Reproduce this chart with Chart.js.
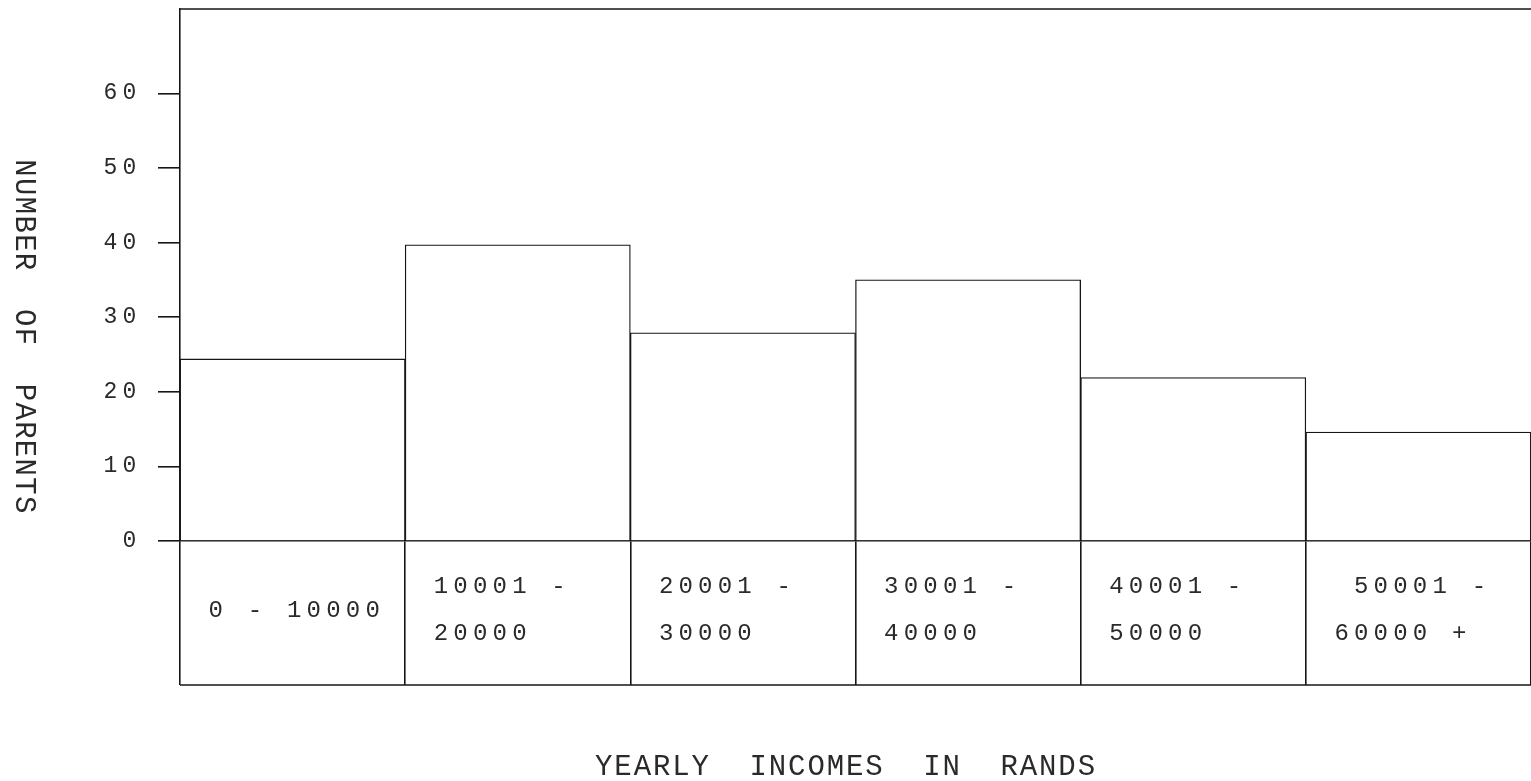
<!DOCTYPE html>
<html>
<head>
<meta charset="utf-8">
<script src="https://cdn.jsdelivr.net/npm/chart.js@4.4.0/dist/chart.umd.min.js"></script>
<style>
html,body{margin:0;padding:0;background:#fff;overflow:hidden}
canvas{display:block}
</style>
</head>
<body>
<canvas id="c" width="1531" height="781"></canvas>
<script>
// ---- data ----
const categories = ["0 - 10000", ["10001 -", "20000"], ["20001 -", "30000"], ["30001 -", "40000"], ["40001 -", "50000"], [" 50001 -", "60000 +"]];
const parents = [24.4, 39.7, 27.9, 35.0, 21.9, 14.6];
const yTickValues = [0, 10, 20, 30, 40, 50, 60];
const yMax = 71.3;
const xTitle = "YEARLY  INCOMES  IN  RANDS";
const yTitle = "NUMBER  OF  PARENTS";

// ---- styling ----
const INK = '#161616';
const TEXT = '#2a2a2a';
const MONO = '"Liberation Mono", "DejaVu Sans Mono", monospace';
const TABLE_H = 144;

const spacingPlugin = {
  id: 'spacing',
  beforeUpdate(chart) { chart.ctx.letterSpacing = '5.2px'; },
  beforeDraw(chart) { chart.ctx.letterSpacing = '5.2px'; }
};

const framePlugin = {
  id: 'frame',
  afterDraw(chart) {
    const {ctx, chartArea} = chart;
    const W = chart.width;
    ctx.save();
    ctx.strokeStyle = INK;
    ctx.lineWidth = 1.6;
    // top frame line
    ctx.beginPath();
    ctx.moveTo(chartArea.left, chartArea.top);
    ctx.lineTo(W, chartArea.top);
    ctx.stroke();
    // bottom line of the category table
    const yb = chartArea.bottom + TABLE_H;
    ctx.beginPath();
    ctx.moveTo(chartArea.left, yb);
    ctx.lineTo(W, yb);
    ctx.stroke();
    // axis titles
    ctx.fillStyle = TEXT;
    ctx.font = '29px ' + MONO;
    ctx.textAlign = 'center';
    ctx.textBaseline = 'middle';
    ctx.letterSpacing = '1.9px';
    ctx.fillText(xTitle, 846, 767);
    ctx.letterSpacing = '1.3px';
    ctx.translate(24, 337);
    ctx.rotate(Math.PI / 2);
    ctx.fillText(yTitle, 0, 0);
    ctx.restore();
  }
};

new Chart(document.getElementById('c'), {
  type: 'bar',
  data: {
    labels: categories,
    datasets: [{
      data: parents,
      backgroundColor: '#ffffff',
      borderColor: INK,
      borderWidth: 1.3,
      borderSkipped: 'bottom',
      barPercentage: 1,
      categoryPercentage: 1
    }]
  },
  options: {
    responsive: false,
    animation: false,
    devicePixelRatio: 1,
    layout: { padding: { top: 9, left: 0, right: 0, bottom: 96 } },
    plugins: { legend: { display: false }, tooltip: { enabled: false } },
    scales: {
      x: {
        type: 'category',
        offset: true,
        grid: { offset: true, drawOnChartArea: false, drawTicks: true, tickLength: TABLE_H, color: INK, lineWidth: 1.6 },
        border: { display: true, color: INK, width: 1.6 },
        ticks: {
          font: { family: MONO, size: 24, lineHeight: 47 / 24 },
          color: TEXT,
          align: 'start',
          crossAlign: 'center',
          padding: -98,
          labelOffset: -84,
          maxRotation: 0,
          minRotation: 0,
          autoSkip: false
        },
        afterFit(scale) { scale.height = TABLE_H; scale.paddingLeft = 0; scale.paddingRight = 0; }
      },
      y: {
        min: 0,
        max: yMax,
        grid: { drawOnChartArea: false, drawTicks: true, tickLength: 22, color: INK, lineWidth: 1.6 },
        border: { display: true, color: INK, width: 1.6 },
        ticks: {
          font: { family: MONO, size: 23, lineHeight: 1 },
          color: TEXT,
          padding: 16.5
        },
        afterBuildTicks(scale) { scale.ticks = yTickValues.map(v => ({ value: v })); },
        afterFit(scale) { scale.width = 180; scale.paddingTop = 0; scale.paddingBottom = 0; }
      }
    }
  },
  plugins: [spacingPlugin, framePlugin]
});
</script>
</body>
</html>
